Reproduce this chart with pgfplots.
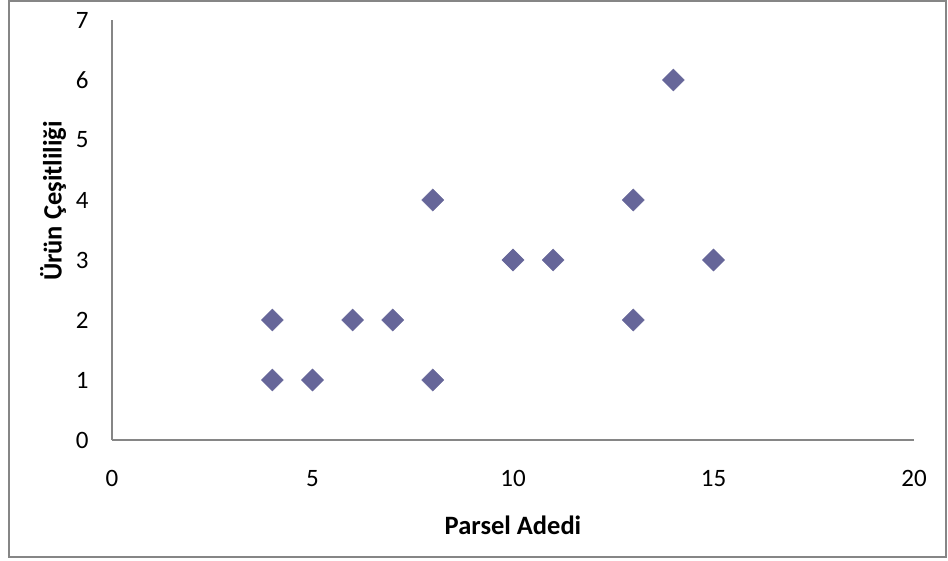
\documentclass[border=0pt]{standalone}
\usepackage{pgfplots}
\pgfplotsset{compat=1.18}
\usepackage{fontspec}
\setmainfont{Carlito}
\definecolor{mk}{HTML}{666699}
\definecolor{ax}{HTML}{868686}
\begin{document}
\begin{tikzpicture}[x=1pt,y=1pt]
\useasboundingbox (-112,-120) rectangle (836,440);
\draw[ax,line width=2.2pt] (-103,-117) rectangle (834,439);
\begin{axis}[
  at={(0,0)}, anchor=origin,
  scale only axis, width=802pt, height=420pt,
  xmin=0, xmax=20, ymin=0, ymax=7,
  xtick={0,5,10,15,20}, ytick={0,1,2,3,4,5,6,7},
  axis x line*=bottom, axis y line*=left,
  axis line style={ax, line width=1.6pt, -},
  major tick length=0pt,
  tick style={draw=none},
  /pgf/number format/assume math mode=true,
  tick label style={font=\fontsize{25}{30}\selectfont, text=black},
  yticklabel style={xshift=-20pt},
  xticklabel style={yshift=-27pt},
  xlabel={\textbf{Parsel Adedi}},
  ylabel={\textbf{Ürün Çeşitliliği}},
  label style={font=\fontsize{26.5}{30}\selectfont},
  xlabel style={at={(axis description cs:0.5,0)}, anchor=center, yshift=-85pt},
  ylabel style={at={(axis description cs:-0.0736,0.569)}, anchor=center},
  clip=false,
]
\addplot[only marks, mark=square*, mark size=7.8pt, mark options={fill=mk, draw=mk, rotate=45}] coordinates {
(4,2) (4,1) (5,1) (6,2) (7,2) (8,4) (8,1) (10,3) (11,3) (13,4) (13,2) (14,6) (15,3)
};
\end{axis}
\end{tikzpicture}
\end{document}
